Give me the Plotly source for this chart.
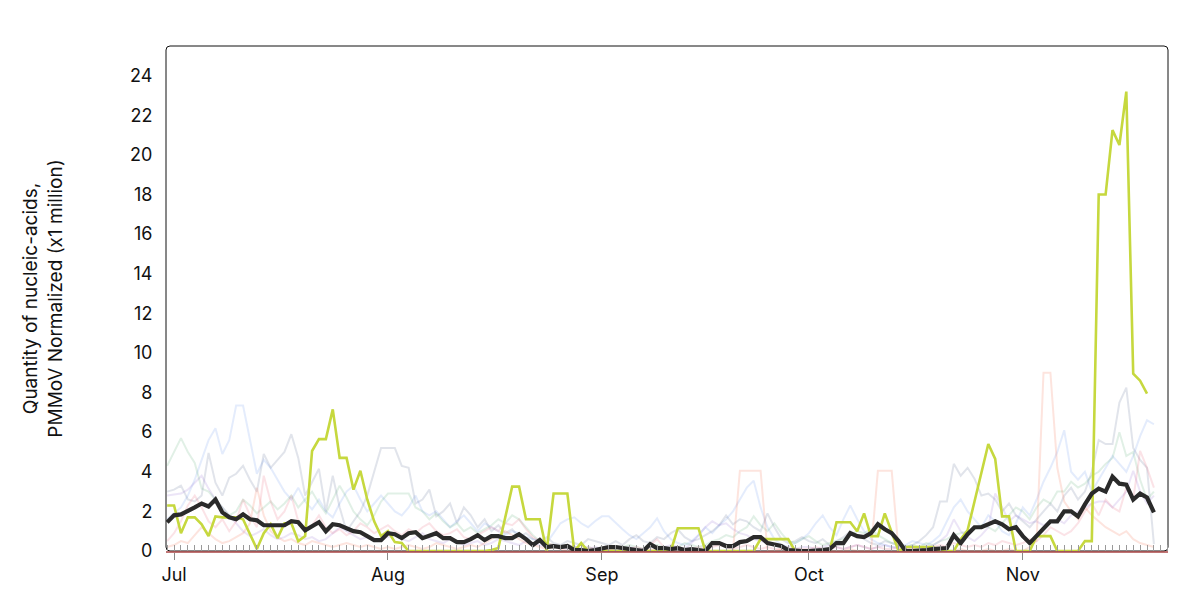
import pandas as pd
import plotly.graph_objects as go

dates = pd.date_range("2023-06-30", "2023-11-20", freq="D")

# Average (black)
avg = ([1.45] +
       [1.8, 1.85, 2.0, 2.2, 2.4, 2.25, 2.6, 1.95, 1.7, 1.6, 1.85, 1.6, 1.55, 1.3, 1.3, 1.3, 1.3, 1.5, 1.45, 1.05,
        1.25, 1.45, 1.0, 1.35, 1.3, 1.15, 1.0, 0.95, 0.75, 0.55, 0.55] +
       [0.9, 0.85, 0.65, 0.9, 0.95, 0.65, 0.8, 0.9, 0.65, 0.65, 0.45, 0.45, 0.6, 0.8, 0.55, 0.75, 0.75, 0.65, 0.65,
        0.85, 0.6, 0.3, 0.55, 0.2, 0.25, 0.2, 0.25, 0.05, 0.05, 0.0, 0.05] +
       [0.15, 0.2, 0.2, 0.15, 0.1, 0.1, 0.0, 0.35, 0.15, 0.15, 0.1, 0.15, 0.05, 0.1, 0.05, 0.0, 0.4, 0.4, 0.25, 0.25,
        0.45, 0.5, 0.7, 0.7, 0.4, 0.35, 0.25, 0.05, 0.0, 0.0] +
       [0.0, 0.0, 0.05, 0.1, 0.4, 0.4, 0.9, 0.75, 0.7, 0.9, 1.35, 1.1, 0.9, 0.5, 0.0, 0.0, 0.0, 0.05, 0.1, 0.1,
        0.15, 0.8, 0.4, 0.85, 1.2, 1.2, 1.35, 1.5, 1.35, 1.1, 1.2] +
       [0.75, 0.4, 0.75, 1.15, 1.5, 1.5, 2.0, 2.0, 1.75, 2.35, 2.9, 3.15, 3.0, 3.75, 3.4, 3.35, 2.6, 2.9, 2.7, 1.95])

# Highlighted site (lime)
site_hl = ([2.3] +
           [2.3, 0.9, 1.7, 1.7, 1.35, 0.75, 1.75, 1.7, 1.7, 1.7, 1.6, 0.85, 0.1, 0.9, 1.35, 0.65, 1.4, 1.4, 0.5, 0.75,
            5.05, 5.65, 5.65, 7.15, 4.7, 4.7, 3.1, 4.05, 2.6, 1.5, 0.75] +
           [1.0, 0.45, 0.4, 0.0, 0.0, 0.0, 0.0, 0.0, 0.0, 0.0, 0.0, 0.0, 0.0, 0.0, 0.0, 0.05, 0.15, 1.7, 3.25, 3.25,
            1.6, 1.6, 1.6, 0.0, 2.9, 2.9, 2.9, 0.0, 0.4, 0.0, 0.0] +
           [0.0, 0.0, 0.0, 0.0, 0.0, 0.0, 0.0, 0.0, 0.0, 0.0, 0.0, 1.15, 1.15, 1.15, 1.15, 0.0, 0.0, 0.0, 0.0, 0.0,
            0.0, 0.0, 0.0, 0.6, 0.6, 0.6, 0.6, 0.6, 0.0, 0.0] +
           [0.0, 0.0, 0.0, 0.0, 1.45, 1.45, 1.45, 1.0, 1.9, 0.75, 0.75, 1.9, 1.0, 0.0, 0.2, 0.2, 0.2, 0.2, 0.2, 0.0,
            0.0, 0.0, 0.6, 1.05, 2.5, 3.95, 5.4, 4.65, 1.75, 1.75, 0.0] +
           [0.0, 0.0, 0.75, 0.75, 0.75, 0.0, 0.0, 0.0, 0.0, 0.5, 0.5, 18.0, 18.0, 21.25, 20.5, 23.2, 8.95, 8.6, 7.95, None])

site_a = ([1.6] +
          [1.9, 2.2, 2.8, 3.6, 4.6, 5.6, 6.2, 4.9, 5.6, 7.35, 7.35, 5.6, 3.9, 4.6, 4.2, 3.6, 3.0, 2.6, 3.2, 2.5,
           2.1, 2.6, 2.0, 1.7, 2.4, 3.0, 3.3, 2.6, 2.0, 2.4, 2.8] +
          [2.4, 2.0, 1.8, 2.2, 2.8, 2.0, 1.8, 2.0, 1.6, 1.2, 1.5, 1.8, 1.4, 1.0, 1.4, 1.2, 1.0, 0.8, 1.0, 0.9,
           0.7, 0.6, 0.5, 0.4, 0.9, 1.4, 1.6, 1.7, 1.4, 1.2, 1.5] +
          [1.75, 1.75, 1.4, 1.1, 0.8, 0.6, 0.9, 1.2, 1.65, 1.0, 0.6, 0.4, 0.3, 0.5, 0.8, 1.2, 0.9, 1.3, 1.6, 2.0,
           2.6, 3.2, 3.55, 2.2, 1.2, 0.6, 0.3, 0.2, 0.4, 0.6] +
          [0.9, 1.4, 1.8, 1.2, 0.8, 1.6, 2.3, 1.6, 1.0, 0.6, 0.4, 0.3, 0.2, 0.2, 0.3, 0.5, 0.4, 0.3, 0.5, 0.8,
           1.5, 2.2, 2.6, 2.0, 1.6, 1.2, 1.8, 1.5, 1.0, 0.8, 1.4] +
          [2.2, 1.8, 2.6, 3.5, 4.2, 5.0, 6.1, 4.0, 3.6, 4.0, 3.0, 3.6, 4.2, 4.8, 4.4, 4.0, 4.8, 5.8, 6.6, 6.4])

site_b = ([3.0] +
          [3.1, 3.3, 2.6, 2.5, 2.8, 4.95, 3.45, 2.8, 3.7, 3.9, 4.3, 3.6, 3.0, 4.9, 4.2, 4.6, 5.0, 5.9, 4.7, 2.8,
           3.5, 4.15, 2.0, 3.8, 2.2, 1.0, 1.5, 2.0, 2.8, 4.0, 5.2] +
          [5.2, 5.2, 4.3, 4.2, 2.4, 2.6, 3.1, 1.75, 2.0, 2.4, 1.4, 2.2, 1.8, 1.2, 1.6, 1.0, 1.3, 0.9, 1.1, 0.7,
           0.9, 0.6, 0.5, 0.7, 0.4, 0.3, 0.5, 0.4, 0.3, 0.6, 0.5] +
          [0.4, 0.3, 0.5, 0.3, 0.6, 0.8, 0.5, 0.4, 0.7, 0.6, 0.9, 1.1, 0.7, 0.5, 0.6, 0.8, 1.0, 1.3, 1.8, 1.35,
           1.6, 1.5, 1.2, 1.0, 1.9, 1.2, 0.6, 0.4, 0.5, 0.7] +
          [0.5, 0.4, 0.6, 0.3, 0.5, 0.7, 1.0, 0.8, 0.6, 0.4, 0.3, 0.5, 0.4, 0.3, 0.2, 0.3, 0.5, 0.8, 1.2, 2.5,
           2.5, 4.4, 3.8, 4.2, 3.65, 2.8, 2.9, 2.6, 2.0, 2.4, 1.8] +
          [1.5, 1.2, 1.6, 2.0, 2.4, 2.0, 2.8, 3.2, 2.6, 3.0, 4.0, 5.6, 5.4, 5.4, 7.5, 8.25, 5.2, 4.6, 4.2, 0.35])

site_c = ([4.3] +
          [5.0, 5.7, 5.0, 4.45, 3.15, 3.0, 2.6, 2.2, 1.8, 2.0, 2.6, 2.3, 1.9, 2.2, 2.5, 2.1, 2.4, 2.8, 2.2, 2.6,
           3.0, 2.4, 1.9, 2.6, 3.3, 2.7, 2.0, 1.6, 1.3, 1.8, 2.5] +
          [2.9, 2.9, 2.9, 2.9, 2.2, 2.0, 1.6, 1.9, 1.5, 1.2, 1.4, 1.0, 1.2, 0.9, 1.1, 1.3, 1.6, 1.4, 1.8, 1.6,
           1.2, 0.8, 0.5, 0.4, 0.3, 0.2, 0.3, 0.2, 0.1, 0.2, 0.1] +
          [0.1, 0.2, 0.1, 0.2, 0.3, 0.2, 0.1, 0.2, 0.3, 0.2, 0.1, 0.2, 0.4, 0.3, 0.2, 0.3, 0.5, 0.6, 0.8, 0.7,
           1.0, 1.2, 1.75, 1.3, 1.0, 1.4, 0.9, 0.5, 0.4, 0.6] +
          [0.75, 0.5, 0.3, 0.4, 0.5, 0.6, 0.8, 1.0, 0.9, 1.1, 0.8, 0.6, 0.4, 0.3, 0.2, 0.3, 0.2, 0.4, 0.3, 0.5,
           0.6, 0.8, 0.9, 1.0, 1.1, 1.3, 1.2, 1.0, 1.4, 1.8, 2.2] +
          [2.0, 1.6, 2.2, 2.6, 2.4, 3.0, 3.0, 3.5, 3.2, 3.4, 3.8, 4.0, 4.4, 4.7, 6.0, 4.8, 5.0, 3.6, 2.6, 3.0])

site_d = ([2.8] +
          [2.85, 2.9, 3.1, 3.45, 3.8, 3.15, 2.6, 2.2, 1.8, 1.4, 1.0, 0.75, 0.9, 1.1, 0.8, 0.6, 0.7, 0.9, 0.8, 0.6,
           0.7, 0.5, 0.6, 0.9, 1.2, 1.0, 0.8, 0.6, 0.7, 0.5, 0.6] +
          [0.7, 0.8, 0.6, 0.5, 0.7, 0.9, 0.6, 0.5, 0.4, 0.6, 0.5, 0.3, 0.4, 0.5, 0.3, 0.4, 0.6, 0.5, 0.4, 0.3,
           0.5, 0.4, 0.3, 0.2, 0.3, 0.2, 0.1, 0.2, 0.1, 0.1, 0.2] +
          [0.1, 0.2, 0.1, 0.1, 0.2, 0.1, 0.1, 0.2, 0.1, 0.2, 0.3, 0.2, 0.1, 0.4, 0.8, 1.2, 1.5, 1.3, 1.4, 1.1,
           0.9, 0.8, 0.6, 0.5, 0.4, 0.3, 0.2, 0.1, 0.1, 0.2] +
          [0.2, 0.1, 0.2, 0.3, 0.2, 0.1, 0.2, 0.3, 0.2, 0.1, 0.2, 0.3, 0.2, 0.1, 0.1, 0.2, 0.1, 0.2, 0.3, 0.5,
           0.8, 1.6, 1.0, 0.7, 0.5, 0.8, 1.2, 2.9, 2.2, 1.5, 1.8] +
          [1.6, 1.4, 1.5, 1.3, 1.5, 1.6, 1.4, 1.8, 2.0, 2.2, 2.4, 2.5, 2.5, 2.2, 2.6, 3.0, 4.05, 3.0, 2.4, 2.8])

site_e = ([0.5] +
          [0.9, 1.5, 2.3, 2.8, 2.2, 1.5, 1.2, 1.6, 1.0, 1.5, 2.6, 1.8, 1.2, 3.8, 2.5, 1.6, 2.0, 2.8, 1.5, 1.0,
           1.3, 1.8, 1.2, 0.9, 1.1, 0.8, 1.0, 1.4, 1.2, 0.9, 1.1] +
          [1.3, 1.0, 0.8, 1.1, 0.9, 1.2, 1.4, 1.0, 0.8, 0.9, 1.1, 0.7, 0.6, 0.8, 1.0, 1.2, 1.0, 1.4, 1.3, 1.6,
           1.1, 0.7, 0.5, 0.4, 0.3, 0.2, 0.3, 0.2, 0.1, 0.2, 0.1] +
          [0.1, 0.1, 0.2, 0.1, 0.1, 0.2, 0.1, 0.3, 0.6, 0.2, 0.1, 0.2, 0.1, 0.1, 0.2, 0.1, 0.2, 0.3, 0.2, 0.1,
           0.2, 0.3, 0.2, 0.1, 0.2, 0.1, 0.1, 0.2, 0.1, 0.1] +
          [0.1, 0.2, 0.1, 0.1, 0.2, 0.1, 0.2, 0.3, 0.2, 0.1, 0.2, 0.1, 0.1, 0.2, 0.1, 0.1, 0.2, 0.1, 0.2, 0.3,
           0.2, 0.4, 0.3, 0.2, 0.3, 0.2, 0.4, 0.3, 0.5, 0.4, 0.3] +
          [0.4, 0.6, 0.5, 0.8, 1.2, 1.0, 0.8, 1.0, 1.4, 2.0, 2.4, 1.8, 2.6, 2.2, 2.0, 3.2, 2.6, 5.05, 4.2, 3.2])

site_f = ([0.2] +
          [0.3, 0.5, 0.4, 0.8, 1.2, 0.9, 0.6, 0.4, 0.5, 0.7, 0.9, 1.4, 3.2, 1.8, 1.0, 0.7, 0.5, 0.6, 0.4, 0.3,
           0.5, 0.4, 0.3, 0.2, 0.3, 0.4, 0.3, 0.2, 0.3, 0.2, 0.1] +
          [0.2, 0.1, 0.2, 0.3, 0.2, 0.1, 0.2, 0.4, 0.3, 0.2, 0.1, 0.2, 0.3, 0.2, 0.4, 0.6, 0.8, 1.0, 0.8, 0.6,
           0.4, 0.3, 0.2, 0.1, 0.2, 0.1, 0.0, 0.1, 0.0, 0.1, 0.0] +
          [0.0, 0.1, 0.0, 0.0, 0.1, 0.0, 0.0, 0.1, 0.0, 0.0, 0.0, 0.1, 0.0, 0.0, 0.1, 0.0, 0.0, 0.0, 0.0, 0.0,
           4.05, 4.05, 4.05, 4.05, 0.0, 0.0, 0.1, 0.0, 0.0, 0.0] +
          [0.0, 0.0, 0.1, 0.0, 0.0, 0.0, 0.1, 0.0, 0.0, 0.0, 4.05, 4.05, 4.05, 0.0, 0.0, 0.1, 0.0, 0.0, 0.0, 0.1,
           0.0, 0.0, 0.1, 0.0, 0.0, 0.0, 0.1, 0.0, 0.0, 0.1, 0.0] +
          [0.0, 0.2, 0.5, 9.0, 9.0, 4.2, 2.5, 2.0, 1.6, 2.2, 1.8, 1.5, 1.2, 1.0, 0.8, 1.0, 0.6, 0.4, 0.3, 0.2])

faint = [
    (site_a, "rgba(95,140,235,0.17)"),
    (site_b, "rgba(80,95,135,0.17)"),
    (site_c, "rgba(70,160,100,0.16)"),
    (site_d, "rgba(135,95,205,0.16)"),
    (site_e, "rgba(225,70,95,0.15)"),
    (site_f, "rgba(245,120,90,0.2)"),
]

for s, _ in faint:
    assert len(s) == len(dates)
assert len(avg) == len(dates) and len(site_hl) == len(dates)

fig = go.Figure()
for s, c in faint:
    fig.add_trace(go.Scatter(x=dates, y=s, mode="lines", line=dict(color=c, width=2),
                             hoverinfo="skip", showlegend=False))
fig.add_trace(go.Scatter(x=dates, y=site_hl, mode="lines", line=dict(color="#c6d83e", width=2.6),
                         showlegend=False))
fig.add_trace(go.Scatter(x=dates, y=avg, mode="lines", line=dict(color="#2a2a2a", width=4.2),
                         showlegend=False))

W, H = 1190 - 166 - 22, 596 - 46 - 45
r = 4
rx, ry = r / W, r / H
path = (f"M {rx},0 L {1-rx},0 Q 1,0 1,{ry} L 1,{1-ry} Q 1,1 {1-rx},1 "
        f"L {rx},1 Q 0,1 0,{1-ry} L 0,{ry} Q 0,0 {rx},0 Z")

fig.update_layout(
    width=1190, height=596,
    margin=dict(l=166, r=22, t=46, b=45),
    paper_bgcolor="white", plot_bgcolor="white",
    font=dict(family="Inter, sans-serif", size=18, color="#111111"),
    showlegend=False,
    shapes=[dict(type="path", path=path, xref="paper", yref="paper",
                 line=dict(color="#111111", width=1), layer="below")],
    xaxis=dict(
        range=["2023-06-29 20:00", "2023-11-22 01:00"],
        showgrid=False, zeroline=False,
        showline=True, linecolor="rgba(170,70,70,0.75)", linewidth=1.5,
        tickmode="linear", tick0="2023-07-01", dtick="M1", tickformat="%b",
        ticks="outside", ticklen=7, tickcolor="#888888", tickwidth=1,
        tickfont=dict(size=18, color="#111111"),
        minor=dict(ticks="inside", dtick=86400000, tick0="2023-06-30",
                   ticklen=6, tickcolor="#9a9a9a", tickwidth=1, showgrid=False),
    ),
    yaxis=dict(
        range=[0, 25.5], showgrid=False, zeroline=False, showline=False,
        tickmode="linear", tick0=0, dtick=2,
        ticks="outside", ticklen=9, tickcolor="rgba(0,0,0,0)",
        tickfont=dict(size=18, color="#111111"),
        title=dict(text="Quantity of nucleic-acids,<br>PMMoV Normalized (x1 million)",
                   font=dict(size=19, color="#111111"), standoff=62),
    ),
)

fig.write_html("out.html", config={"displayModeBar": False},
               post_script="document.body.style.margin='0';document.body.style.padding='0';")
